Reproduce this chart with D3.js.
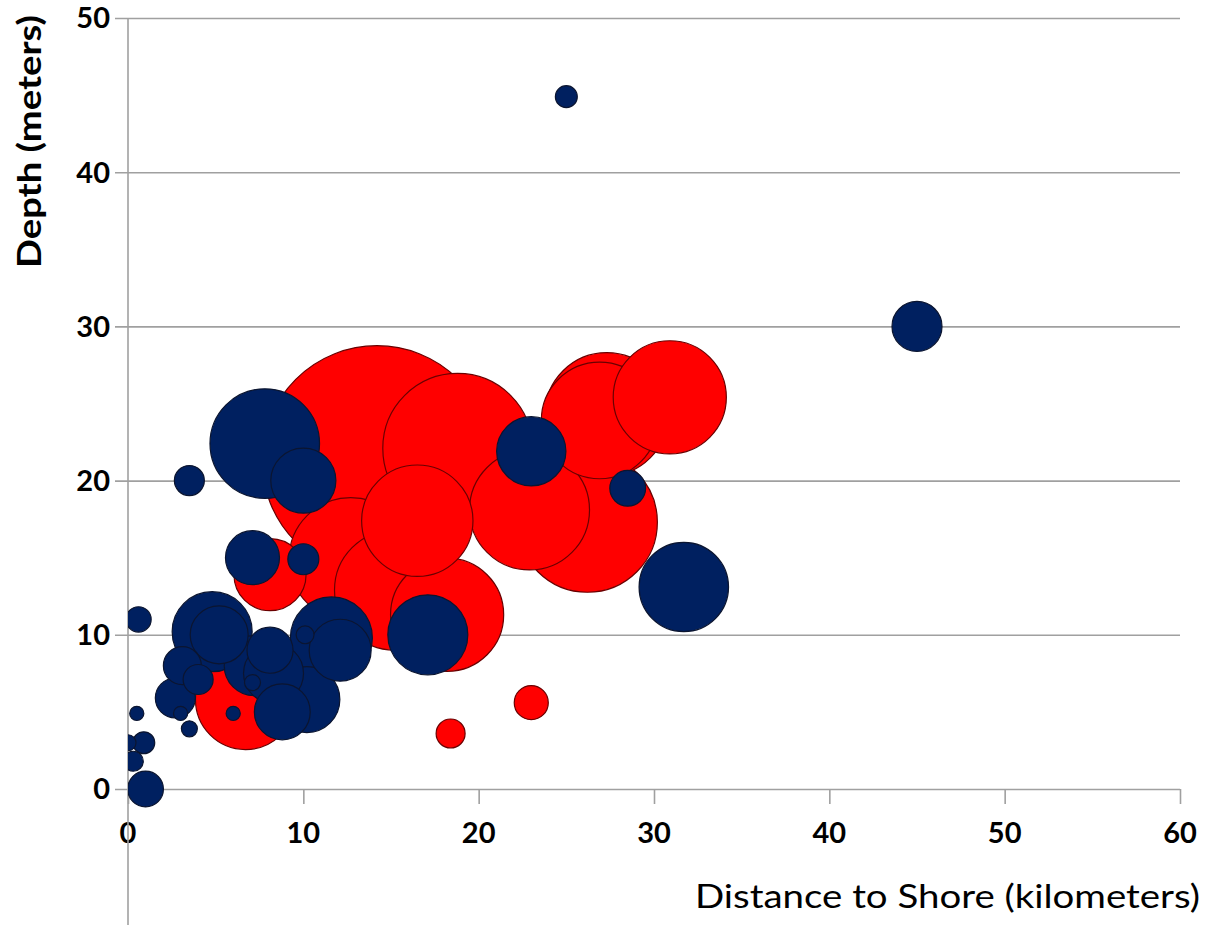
<!DOCTYPE html>
<html>
<head>
<meta charset="utf-8">
<script src="https://cdn.jsdelivr.net/npm/d3@7"></script>
<style>
  html, body { margin: 0; padding: 0; background: #fff; }
  svg { display: block; }
</style>
</head>
<body>
<svg id="chart" width="1210" height="930"></svg>
<script>
// ---- Data ----
// Red series: distance to shore (km), depth (m), bubble size
const redX    = [14.2, 18.8, 16.5, 22.9, 26.2, 27.3, 26.9, 30.9, 12.7, 15.2, 18.2, 6.7, 8.1, 18.4, 23.0];
const redY    = [21.3, 22.1, 17.4, 18.1, 17.3, 24.3, 23.9, 25.4, 14.9, 12.9, 11.3, 5.8, 13.9, 3.6, 5.6];
const redSize = [132, 56, 31, 36, 49, 38, 34, 32, 38, 36, 32, 25, 13, 2.1, 2.9];

// Blue series
const blueX    = [25.0, 45.0, 31.7, 28.5, 23.0, 17.1, 7.8, 10.0, 3.5, 7.1, 10.0, 0.6, 4.8, 5.2, 8.1, 11.6, 12.1, 10.1, 8.8, 10.2, 2.7, 3.1, 4.0, 3.0, 3.5, 6.0, 0.5, 0.9, 0.3, 0.0, 1.0, 7.1, 7.2, 8.3];
const blueY    = [44.9, 30.0, 13.1, 19.5, 21.9, 10.0, 22.4, 20.0, 20.0, 15.0, 14.9, 11.0, 10.2, 10.0, 9.0, 9.8, 9.0, 10.0, 5.0, 5.8, 5.9, 8.0, 7.1, 4.9, 3.9, 4.9, 4.9, 3.0, 1.8, 3.0, 0.0, 6.9, 8.0, 7.5];
const blueSize = [1.2, 6.25, 20, 3.2, 12, 16, 30, 10.6, 2.25, 7.3, 2.4, 1.6, 16, 8.4, 5.3, 16.8, 9.6, 0.8, 7.8, 10.9, 4, 3.6, 2.25, 0.5, 0.64, 0.5, 0.5, 1.2, 1.0, 0.64, 3.2, 0.64, 9, 9];

const xTicks = [0, 10, 20, 30, 40, 50, 60];
const yTicks = [0, 10, 20, 30, 40, 50];
const xTitle = "Distance to Shore (kilometers)";
const yTitle = "Depth (meters)";

// ---- Layout ----
const svg = d3.select("#chart");
const x = d3.scaleLinear().domain([0, 60]).range([128, 1180]);
const y = d3.scaleLinear().domain([0, 50]).range([789, 18]);
const r = d3.scaleSqrt().domain([0, 1]).range([0, 10]);

const gridColor = "#a0a0a0";
const font = "Lato, 'Open Sans', sans-serif";

// horizontal gridlines (with left ticks) via axis
const yAxis = d3.axisLeft(y).tickValues(yTicks).tickSize(-(1180 - 115)).tickPadding(0).tickFormat("");
svg.append("g")
  .attr("transform", "translate(1180,0)")
  .call(yAxis)
  .call(g => g.select(".domain").remove())
  .call(g => g.selectAll(".tick line").attr("stroke", gridColor).attr("stroke-width", 1.6).attr("x1", 0).attr("x2", -(1180 - 115)));

// y tick labels
svg.append("g").selectAll("text").data(yTicks).join("text")
  .attr("x", 110)
  .attr("y", d => y(d))
  .attr("dy", "0.36em")
  .attr("text-anchor", "end")
  .attr("font-family", font)
  .attr("font-weight", "bold")
  .attr("font-size", 29)
  .attr("fill", "#000")
  .text(d => d);

// x axis ticks
const xAxis = d3.axisBottom(x).tickValues(xTicks).tickSize(15).tickFormat("");
svg.append("g")
  .attr("transform", "translate(0,789)")
  .call(xAxis)
  .call(g => g.select(".domain").remove())
  .call(g => g.selectAll(".tick line").attr("stroke", gridColor).attr("stroke-width", 1.6));

// x tick labels
svg.append("g").selectAll("text").data(xTicks).join("text")
  .attr("x", d => x(d))
  .attr("y", 843)
  .attr("text-anchor", "middle")
  .attr("font-family", font)
  .attr("font-weight", "bold")
  .attr("font-size", 29)
  .attr("fill", "#000")
  .text(d => d);

// y axis line
svg.append("line")
  .attr("x1", x(0)).attr("x2", x(0))
  .attr("y1", y(50)).attr("y2", 925)
  .attr("stroke", gridColor).attr("stroke-width", 1.6);

// clip bubbles at the left edge of plot
svg.append("clipPath").attr("id", "clip")
  .append("rect").attr("x", x(0)).attr("y", 0).attr("width", 1210 - x(0)).attr("height", 930);

const plot = svg.append("g").attr("clip-path", "url(#clip)");

function series(xs, ys, ss, fill, stroke) {
  const data = xs.map((v, i) => ({ x: v, y: ys[i], s: ss[i] }))
    .sort((a, b) => b.s - a.s);
  plot.append("g").selectAll("circle").data(data).join("circle")
    .attr("cx", d => x(d.x))
    .attr("cy", d => y(d.y))
    .attr("r", d => r(d.s))
    .attr("fill", fill)
    .attr("stroke", stroke)
    .attr("stroke-width", 1.2);
}
series(redX, redY, redSize, "#ff0000", "#6a0000");
series(blueX, blueY, blueSize, "#002060", "#0b1530");

// axis titles
svg.append("text")
  .attr("x", 1200).attr("y", 908)
  .attr("text-anchor", "end")
  .attr("font-family", font)
  .attr("font-size", 32)
  .attr("fill", "#000")
  .attr("textLength", 505)
  .attr("lengthAdjust", "spacingAndGlyphs")
  .text(xTitle);

svg.append("text")
  .attr("transform", "translate(41,268) rotate(-90)")
  .attr("x", 0).attr("y", 0)
  .attr("text-anchor", "start")
  .attr("font-family", font)
  .attr("font-weight", "bold")
  .attr("font-size", 32)
  .attr("fill", "#000")
  .attr("textLength", 253)
  .attr("lengthAdjust", "spacingAndGlyphs")
  .text(yTitle);
</script>
</body>
</html>
